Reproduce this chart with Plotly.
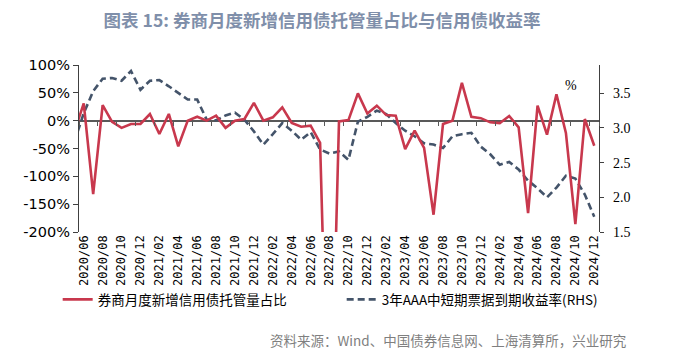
import plotly.graph_objects as go

# ---- data ----
months = [f"{y}/{m:02d}" for y in range(2020, 2025) for m in range(1, 13)]
months = months[months.index("2020/05"):]  # 2020/05 .. 2024/12

label_months = months[1::2]  # 2020/06, 2020/08, ..., 2024/12

broker_share = [-21, 31, -132, 28, -2, -13, -6, -6, 12, -24, 12, -46, 0, 7,
                0, 9, -13, 0, 3, 32, 0, 6, 24, -4, -11, -9, -40, -650,
                -1.5, 1, 49, 13, 27, 10, 9, -51, -18, -49, -169, -6, 0, 68,
                7, 4.5, -3, -4.5, 8.5, -12, -166, 27, -25, 47.5, -22, -186, 3, -45]

mtn_yield = [2.80, 3.21, 3.53, 3.71, 3.72, 3.68, 3.82, 3.55, 3.68, 3.69, 3.60,
             3.51, 3.41, 3.41, 3.12, 3.11, 3.18, 3.22, 3.12, 2.95, 2.76, 2.91,
             3.07, 2.96, 2.83, 2.94, 2.69, 2.63, 2.66, 2.54, 3.09, 3.16, 3.25,
             3.20, 3.07, 2.96, 2.88, 2.78, 2.76, 2.71, 2.88, 2.91, 2.93, 2.73,
             2.62, 2.47, 2.51, 2.40, 2.24, 2.13, 2.00, 2.14, 2.31, 2.27, 2.04, 1.72]

left_ticks = [-200, -150, -100, -50, 0, 50, 100]
left_tick_labels = [f"{v}%" for v in left_ticks]
right_ticks = [1.5, 2.0, 2.5, 3.0, 3.5]

name_red = "券商月度新增信用债托管量占比"
name_blue = "3年AAA中短期票据到期收益率(RHS)"
title_text = "图表 15: 券商月度新增信用债托管量占比与信用债收益率"
source_text = "资料来源：Wind、中国债券信息网、上海清算所，兴业研究"

RED = "#C8384D"
BLUE = "#44546A"
AXIS = "#404040"

# page body has an 8px default margin: the figure is sized to fit the window
W, H = 665, 348

fig = go.Figure()
fig.add_trace(go.Scatter(x=months, y=broker_share, name=name_red, mode="lines",
                         line=dict(color=RED, width=2.6), xaxis="x2", yaxis="y2"))
fig.add_trace(go.Scatter(x=months, y=mtn_yield, name=name_blue, mode="lines",
                         line=dict(color=BLUE, width=2.6, dash="7px,4px"),
                         xaxis="x", yaxis="y"))

xr = [0.5, len(months) - 0.5]
fig.update_layout(
    width=W, height=H,
    margin=dict(l=71, r=74, t=57, b=124),
    paper_bgcolor="white", plot_bgcolor="white",
    font=dict(family="DejaVu Sans", color="black"),
    showlegend=True,
    legend=dict(orientation="h", x=-0.041, xanchor="left", y=-0.405, yanchor="middle",
                font=dict(family="Noto Sans CJK SC", size=13.5, color="black"),
                entrywidth=239, itemwidth=30, bgcolor="rgba(0,0,0,0)"),
    xaxis=dict(type="category", categoryorder="array", categoryarray=months,
               range=xr, tickmode="array", tickvals=label_months, ticktext=label_months,
               tickangle=-90, ticks="", showline=False, showgrid=False, zeroline=False,
               tickfont=dict(family="DejaVu Sans Mono", size=12, color="black"),
               anchor="y"),
    xaxis2=dict(type="category", categoryorder="array", categoryarray=months,
                range=xr, overlaying="x", anchor="free", position=2/3,
                tickmode="array", tickvals=label_months, tickson="boundaries",
                ticks="outside", ticklen=4, tickwidth=1.2, tickcolor="#595959",
                showticklabels=False, showline=False, showgrid=False, zeroline=False),
    yaxis=dict(side="right", range=[1.5, 3.907], tickmode="array", tickvals=right_ticks,
               tickformat=".1f", ticks="outside", ticklen=4, tickcolor=AXIS,
               ticklabelstandoff=6,
               showline=True, linecolor=AXIS, linewidth=1.3, showgrid=False, zeroline=False,
               tickfont=dict(family="Liberation Serif", size=14, color="black"), anchor="x"),
    yaxis2=dict(side="left", overlaying="y", range=[-200, 100], tickmode="array",
                tickvals=left_ticks, ticktext=left_tick_labels, ticks="outside", ticklen=5,
                tickcolor=AXIS, showline=True, linecolor=AXIS, linewidth=1.3,
                showgrid=False, zeroline=True, zerolinecolor="#595959", zerolinewidth=1.5,
                tickfont=dict(family="DejaVu Sans", size=14.5, color="black"), anchor="x"),
    title=dict(text=title_text, x=314 / W, xanchor="center", y=1 - 12.5 / H, yanchor="middle",
               xref="container", yref="container",
               font=dict(family="Noto Sans CJK SC", size=17.5, color="#7F8FAA", weight=700)),
    annotations=[
        dict(text="%", xref="paper", yref="paper", x=0.9615, y=0.934, showarrow=False,
             font=dict(family="Liberation Serif", size=14, color="black")),
        dict(text=source_text, xref="paper", yref="paper", x=1.055, y=-0.644,
             xanchor="right", yanchor="middle", showarrow=False,
             font=dict(family="Noto Sans CJK SC", size=13.5, color="#7F7F7F")),
    ],
)

fig.write_html("out.html")
